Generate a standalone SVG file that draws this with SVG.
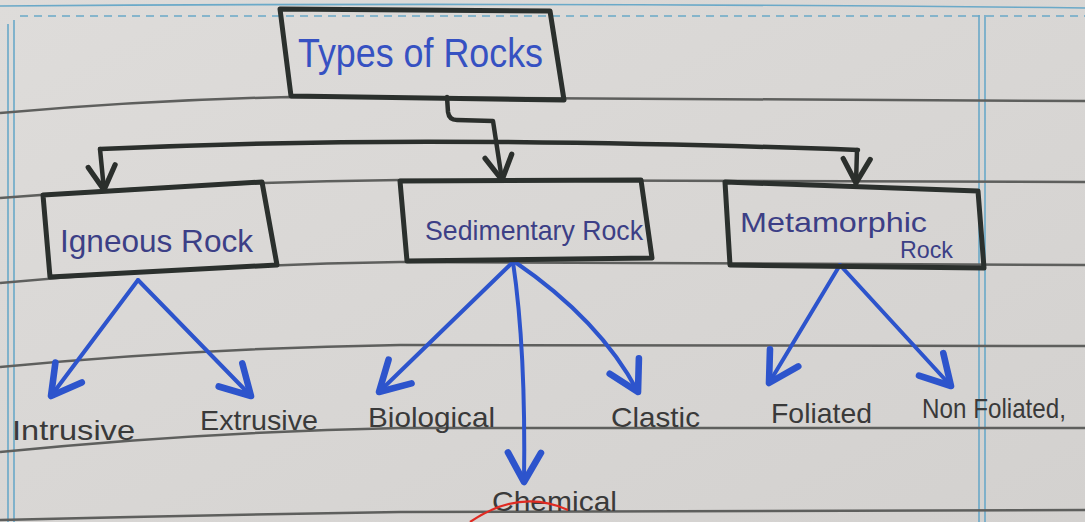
<svg xmlns="http://www.w3.org/2000/svg" width="1085" height="522" viewBox="0 0 1085 522">
<defs>
<linearGradient id="paper" x1="0" y1="0" x2="1" y2="1">
<stop offset="0" stop-color="#dedcda"/>
<stop offset="1" stop-color="#d3d1cf"/>
</linearGradient>
<marker id="vblue" markerUnits="userSpaceOnUse" markerWidth="44" markerHeight="44" viewBox="-2 -2 24 24" refX="18" refY="10" orient="auto">
<path d="M2,1 L18,10 L2,19" fill="none" stroke="#2d54cc" stroke-width="3.6" stroke-linecap="round" stroke-linejoin="round"/>
</marker>
<marker id="vblack" markerUnits="userSpaceOnUse" markerWidth="36" markerHeight="36" viewBox="-2 -2 24 24" refX="18" refY="10" orient="auto">
<path d="M2,1 L18,10 L2,19" fill="none" stroke="#2b2f2c" stroke-width="3.5" stroke-linecap="round" stroke-linejoin="round"/>
</marker>
</defs>
<style>
.rule{fill:none;stroke:#5e5f5d;stroke-width:2.5}
.margin{fill:none;stroke:#6aa9c8;stroke-width:1.6}
.box{fill:none;stroke:#2b302d;stroke-width:5;stroke-linejoin:round}
.conn{fill:none;stroke:#2b2f2c;stroke-width:4.5;stroke-linecap:round;stroke-linejoin:round}
.blue{fill:none;stroke:#2d54cc;stroke-width:4;stroke-linecap:round}
.boxtxt{font-family:"Liberation Sans",Arial,sans-serif;fill:#3c3f86}
.label{font-family:"Liberation Sans",Arial,sans-serif;fill:#3a3a3a;font-size:28px}
</style>
<rect x="0" y="0" width="1085" height="522" fill="url(#paper)"/>
<g id="paper-lines">
<path class="margin" d="M0,6 Q540,2 1085,8" stroke-width="2"/>
<path class="margin" d="M20,16 L1085,16" stroke-dasharray="8,6" stroke-width="2.5"/>
<path class="margin" d="M8,24 L8,522 M14,20 L14,522"/>
<path class="margin" d="M979,15 L979,522 M985,15 L985,522"/>
<path class="rule" d="M0,113 Q150,100 290,97 L1085,101"/>
<path class="rule" d="M0,198 Q200,182 400,180 L1085,182"/>
<path class="rule" d="M0,283 Q200,265 400,262 L1085,265"/>
<path class="rule" d="M0,367 Q200,348 400,345 L1085,346"/>
<path class="rule" d="M0,452 Q200,432 400,428 L1085,428"/>
<path class="rule" d="M0,520 Q200,515 400,512 L1085,510"/>
</g>
<g id="connectors">
<path class="conn" d="M447,97 L448,112 Q449,120 457,120 L493,121 L502,180" marker-end="url(#vblack)"/>
<path class="conn" d="M100,149 Q300,140 500,142 T858,150"/>
<path class="conn" d="M100,149 L104,190" marker-end="url(#vblack)"/>
<path class="conn" d="M857,150 L856,183" marker-end="url(#vblack)"/>
<path class="blue" d="M138,280 L51,396" marker-end="url(#vblue)"/>
<path class="blue" d="M138,280 L251,396" marker-end="url(#vblue)"/>
<path class="blue" d="M513,262 L379,392" marker-end="url(#vblue)"/>
<path class="blue" d="M513,262 Q526,350 524,482" marker-end="url(#vblue)"/>
<path class="blue" d="M515,262 Q600,320 638,392" marker-end="url(#vblue)"/>
<path class="blue" d="M840,265 L769,383" marker-end="url(#vblue)"/>
<path class="blue" d="M840,265 L951,386" marker-end="url(#vblue)"/>
</g>
<g id="node-types">
<path class="box" d="M280,9 L550,11 L564,100 L291,96 Z"/>
<text x="298" y="67" class="boxtxt" font-size="40" style="fill:#3651c2" textLength="245" lengthAdjust="spacingAndGlyphs">Types of Rocks</text>
</g>
<g id="node-igneous">
<path class="box" d="M43,195 L262,182 L277,265 L50,277 Z"/>
<text x="60" y="252" class="boxtxt" font-size="32" textLength="193" lengthAdjust="spacingAndGlyphs">Igneous Rock</text>
</g>
<g id="node-sedimentary">
<path class="box" d="M400,181 L641,180 L652,258 L407,261 Z"/>
<text x="425" y="240" class="boxtxt" font-size="28" textLength="218" lengthAdjust="spacingAndGlyphs">Sedimentary Rock</text>
</g>
<g id="node-metamorphic">
<path class="box" d="M725,182 L978,191 L984,268 L730,265 Z"/>
<text x="740" y="232" class="boxtxt" font-size="28" textLength="187" lengthAdjust="spacingAndGlyphs">Metamorphic</text>
<text x="900" y="258" class="boxtxt" font-size="24" textLength="53" lengthAdjust="spacingAndGlyphs">Rock</text>
</g>
<g id="node-intrusive"><text x="12" y="440" class="label" textLength="123" lengthAdjust="spacingAndGlyphs">Intrusive</text></g>
<g id="node-extrusive"><text x="200" y="430" class="label" textLength="118" lengthAdjust="spacingAndGlyphs">Extrusive</text></g>
<g id="node-biological"><text x="368" y="427" class="label" textLength="127" lengthAdjust="spacingAndGlyphs">Biological</text></g>
<g id="node-chemical"><text x="492" y="511" class="label" textLength="125" lengthAdjust="spacingAndGlyphs">Chemical</text></g>
<g id="node-clastic"><text x="611" y="427" class="label" textLength="89" lengthAdjust="spacingAndGlyphs">Clastic</text></g>
<g id="node-foliated"><text x="771" y="423" class="label" textLength="101" lengthAdjust="spacingAndGlyphs">Foliated</text></g>
<g id="node-nonfoliated"><text x="922" y="418" class="label" textLength="144" lengthAdjust="spacingAndGlyphs">Non Foliated,</text></g>
<path d="M470,522 Q520,488 568,510" fill="none" stroke="#e02a22" stroke-width="2.2"/>
</svg>
